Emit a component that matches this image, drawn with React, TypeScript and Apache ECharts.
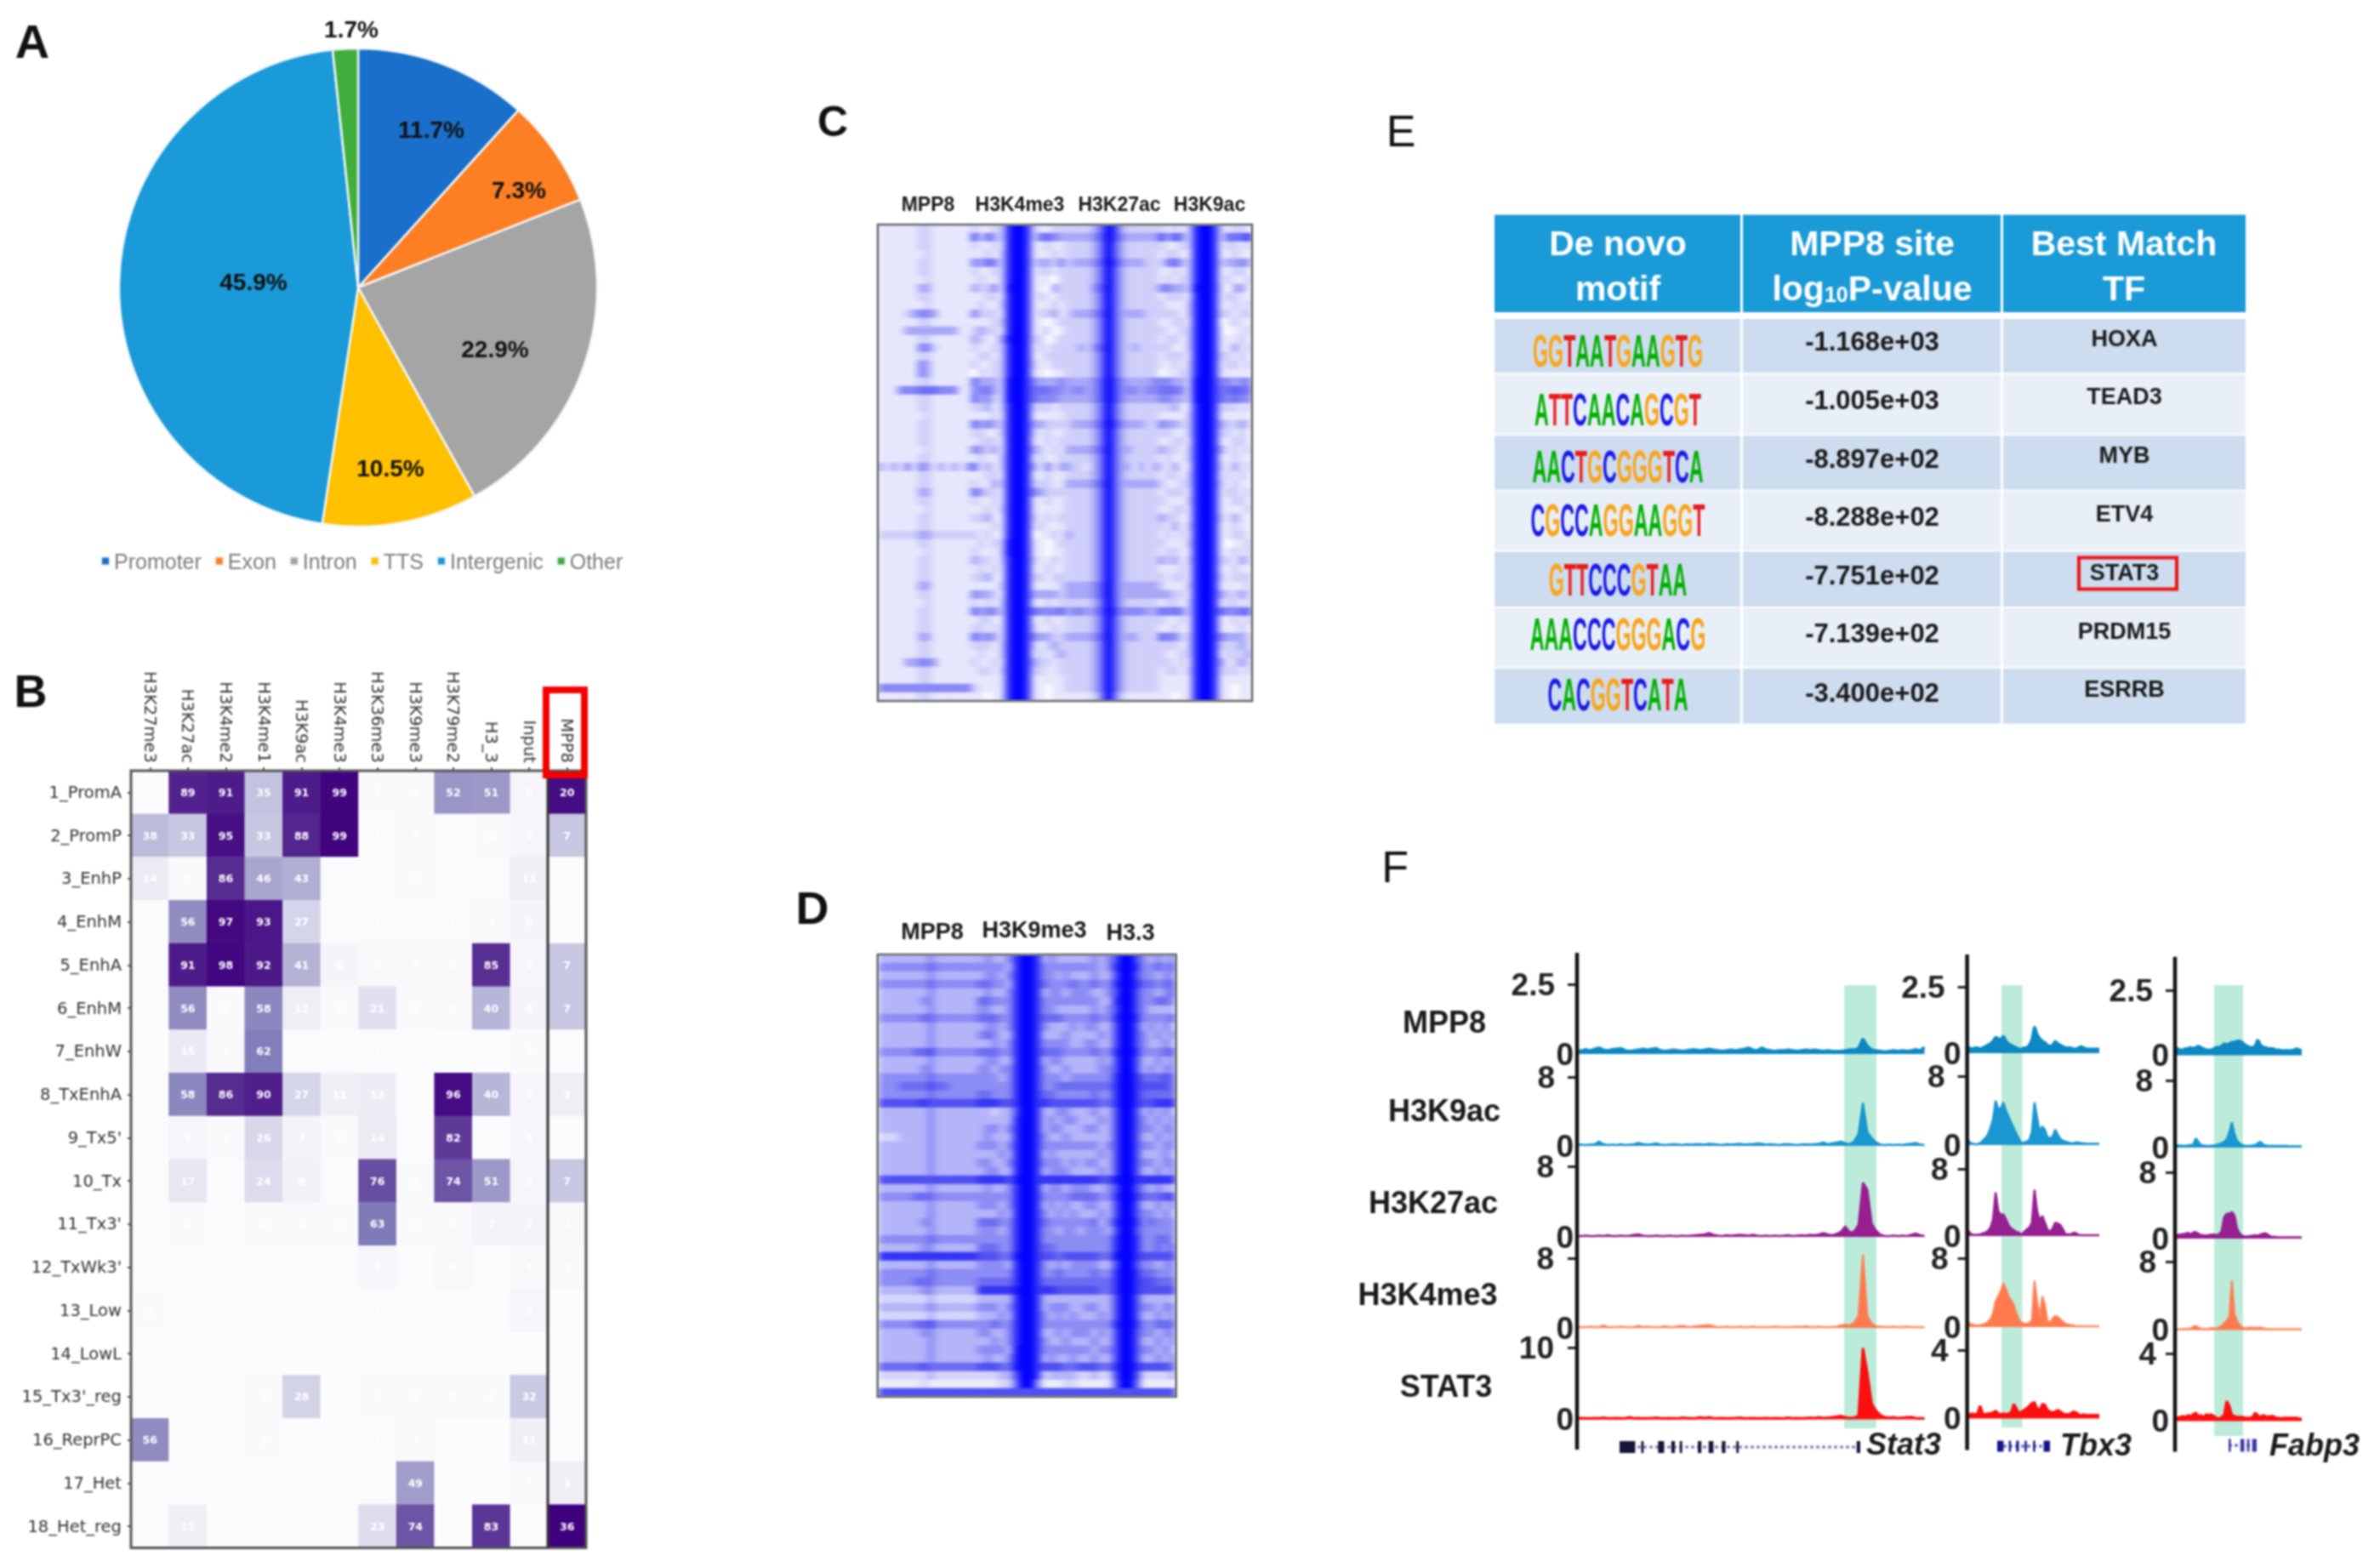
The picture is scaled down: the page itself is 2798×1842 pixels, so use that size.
import React, { useEffect, useRef } from "react";
import * as echarts from "echarts";

// ---------- Panel A ----------
const pieNames = ["Promoter", "Exon", "Intron", "TTS", "Intergenic", "Other"];
const pieValues = [11.7, 7.3, 22.9, 10.5, 45.9, 1.7];
const pieColors = ["#196fc9", "#fd7e23", "#a5a5a5", "#ffc000", "#1a9ad8", "#3fae3c"];
const pieLabelAnchors = [[507, 152], [610, 223], [582, 410], [459, 550], [298, 331], [413, 34]];

// ---------- Panel B ----------
const marks = ["H3K27me3", "H3K27ac", "H3K4me2", "H3K4me1", "H3K9ac", "H3K4me3", "H3K36me3", "H3K9me3", "H3K79me2", "H3_3", "Input", "MPP8"];
const states = ["1_PromA", "2_PromP", "3_EnhP", "4_EnhM", "5_EnhA", "6_EnhM", "7_EnhW", "8_TxEnhA", "9_Tx5'", "10_Tx", "11_Tx3'", "12_TxWk3'", "13_Low", "14_LowL", "15_Tx3'_reg", "16_ReprPC", "17_Het", "18_Het_reg"];
const stateValues = [
  [0, 89, 91, 35, 91, 99, 2, 2, 52, 51, 5, 20],
  [38, 33, 95, 33, 88, 99, 1, 3, 1, 2, 5, 7],
  [14, 2, 86, 46, 43, 1, 1, 2, 1, 1, 11, 0],
  [1, 56, 97, 93, 27, 1, 1, 1, 1, 3, 6, 0],
  [1, 91, 98, 92, 41, 6, 3, 3, 3, 85, 5, 7],
  [1, 56, 2, 58, 12, 2, 21, 2, 3, 40, 6, 7],
  [0, 15, 3, 62, 1, 1, 1, 0, 0, 1, 2, 0],
  [1, 58, 86, 90, 27, 11, 13, 1, 96, 40, 5, 3],
  [1, 5, 3, 26, 7, 2, 14, 1, 82, 1, 5, 0],
  [0, 17, 1, 24, 9, 1, 76, 2, 74, 51, 5, 7],
  [1, 2, 1, 2, 2, 2, 63, 2, 3, 7, 7, 3],
  [1, 1, 1, 1, 1, 1, 5, 1, 4, 1, 4, 2],
  [2, 1, 1, 1, 1, 1, 1, 1, 1, 0, 5, 0],
  [0, 0, 0, 0, 0, 0, 0, 0, 0, 0, 0, 0],
  [0, 1, 0, 2, 28, 0, 2, 2, 2, 2, 32, 0],
  [56, 1, 1, 2, 0, 0, 1, 3, 0, 0, 11, 0],
  [0, 0, 0, 0, 0, 0, 1, 49, 0, 1, 3, 3],
  [0, 11, 0, 0, 1, 1, 23, 74, 1, 83, 0, 36],
];
// the MPP8 column has its own colour range in the picture (read per row)
const mpp8Shade = [96, 33, 0, 0, 33, 33, 0, 12, 0, 33, 4, 3, 0, 0, 0, 0, 12, 100];
const purples = ["#fcfbfd", "#efedf5", "#dadaeb", "#bcbddc", "#9e9ac8", "#807dba", "#6a51a3", "#54278f", "#3f007d"];

// ---------- Panel C: signal per row, MPP8 | H3K4me3 | H3K27ac | H3K9ac ----------
const signalC = [
  "11111122111111 21122799721122 22223597322222 21212799721221",
  "11111122111111 62532799725543 33334697433333 63642799725557",
  "11111122111111 21121799711211 22223596322222 21122799712212",
  "11111112111111 11212799711121 22223596322222 12211799711211",
  "11111122111111 43542799723324 23334697433322 24532799723343",
  "11111122111111 21122799712212 22223596322222 11212799711221",
  "11111112111111 12112799711102 22223596322222 12122799712112",
  "11111133111111 32241899711032 22224696322222 44332899720331",
  "11111122111111 11221799712112 22223596322222 12221799712211",
  "11111112111111 12112799711121 22223596322222 21112799711212",
  "11112344311111 42221799712231 23334696333322 22212799722122",
  "11111122111111 11122799711012 22223596322222 11221799701211",
  "11113333333311 23221799711201 22223596322222 21122799710112",
  "11111122111111 32113899722012 22223596322222 12212799711121",
  "11111144211111 21122799712122 22324696323222 22112799711312",
  "11111122111111 12212799711222 22223596322222 12221799722121",
  "11111143111111 21122799721122 22223596322222 11212799712212",
  "11111143111111 02122799711011 22223596322222 01122799711111",
  "11111122111111 53332899743334 33334697433334 44332899744344",
  "11144455544411 44532899755544 34434697444344 55542899755655",
  "11111122111111 53422899754443 33334697433333 44332899754544",
  "11111122111111 22312799722212 22223596322222 22311799722212",
  "11111112111111 11121799711111 22223596322222 11112799711111",
  "11111122111111 53432799733222 23334697433322 43322799732232",
  "11111122111111 22112799721211 22223596322222 22112799722121",
  "11111122111111 12221799711212 22223596322222 11221799711221",
  "11111112111111 43231799732121 33334696332222 32212799731212",
  "11111122111111 12112799712112 22223596322222 12112799711211",
  "31314143131313 51312799731413 32213596331313 21311799721312",
  "11111122111111 11221799711211 22223596322222 12212799712121",
  "11111122111111 21132799722211 33334696333333 21122799721211",
  "11111133111111 53221799743222 22223596322222 12221799712212",
  "11111122111111 21121799711211 22223596322222 21112799711221",
  "11111112111111 11212799711111 22223596322222 11221799711112",
  "11111122111111 22311799721212 22223596322222 32211799721311",
  "11111122111111 11121799712111 22223596322222 21312799711211",
  "22222233222222 21211799701121 32223596322222 12121799711221",
  "11111122111111 12122899711012 22223596322222 21112799710112",
  "11111112111111 21112899711011 22223596322222 12211799711212",
  "11111122111111 32212799721121 22223596322222 32312799722132",
  "11111122111111 12121799711211 22223596322222 11121799711211",
  "11111122111111 22311799722122 22223596322222 21221799721222",
  "11111133111111 11112799711112 33334696333333 21112799711112",
  "11111122111111 43321799733332 33334696333333 33221799732232",
  "11111112111111 21212799711212 22223596322222 12212799712212",
  "11111122111111 53442799754445 34434697444433 54542799754455",
  "11111122111111 12211799711211 22223596322222 21121799711212",
  "11111122111111 22121799721121 22223596322222 11211799711121",
  "11111133111111 53431799743322 33334696333222 54422799743332",
  "11111122111111 22212799721232 22223596322222 22212799722232",
  "11111122111111 12112799712123 22223596322222 21122799712223",
  "11113344311111 21121799732212 22223596322222 22121799731232",
  "11111122111111 12212799722112 22223596322222 12212799722212",
  "11111122111111 11111799711111 22223596322222 11111799711111",
  "44444444444444 21111799711011 22223596322222 11111799711011",
  "11111122111111 11011799711011 11112495211111 11011799711011",
];

// ---------- Panel D: signal per row, MPP8 | H3K9me3 | H3.3 ----------
const signalD = [
  "33333334333333 34334799734333 33434699643434",
  "44444445444444 44443799744444 44434799744545",
  "33333334333333 34434799744343 33433699644344",
  "44444445444444 55443799754445 44544799755455",
  "33333334333333 34334799734434 44334699644345",
  "33333344333333 55444799744444 44433799644554",
  "33333334333333 44334799744333 33434699643333",
  "44444455444444 55544799755544 44544799744445",
  "33333334333333 34434799743334 34433699634343",
  "33333334333333 45433799733343 33343699643434",
  "33333334333333 33434799744443 34433699643343",
  "44444556444444 55544799755544 44544799744455",
  "33333334333333 34433799734433 33343699633434",
  "33333344333333 44344799743343 33344699634344",
  "44444445444444 44434799744434 44444799755565",
  "44455556554444 44444799744555 55555799766665",
  "44444445444444 55444799755444 44544799755555",
  "66666676666666 77766799776666 66655799766777",
  "33333334333333 33233699733443 33433699634343",
  "33333334333333 33333799734344 33343699643434",
  "33333334333333 34434799734433 34433699644344",
  "22233334333333 34333799743343 33333699633434",
  "33333334333333 44434799744444 44434699644344",
  "33333334333333 33343799734333 33343699633343",
  "33333334333333 44334799744434 34433699644344",
  "33333334333333 34433799734443 33343699633434",
  "66666666666666 77776899777777 77766899777777",
  "33333334333333 34334799734434 44334699643433",
  "44444555444444 44444799744445 55544799755566",
  "33333334333333 44434799734343 34433699633434",
  "33333334333333 33343799743434 33343699644343",
  "33333344333333 55544799754444 44534799745444",
  "33333334333333 44434799744344 34443699644444",
  "44444445444444 44444799744444 44444799744554",
  "33333344333333 55544799755444 44444799744545",
  "77777777777777 66655899766566 66655899766666",
  "33333334333333 44443799743434 44433699644344",
  "44444445444444 44444799744544 44544799755444",
  "44444555444444 55555799755555 55555799766555",
  "33333344333333 77777899777666 66655799766666",
  "22222223222222 33333799733333 33333699633333",
  "33333334333333 44434799734443 34433699644344",
  "22222223222222 33343799743434 33343699633434",
  "44444556444444 44544799744444 44444799744555",
  "33333344333333 44334799733434 44343699644344",
  "33333334333333 33434799743343 33433699633434",
  "33333334333333 44443899744444 44344699644343",
  "33333334333333 34334899734334 33433699633434",
  "55555565555555 66655899766655 66655799766665",
  "22222223222222 22233699723333 22322699622223",
  "11111121111111 11122599411122 11111599511111",
  "66666666666666 66666666666666 66666666666666",
];
const signalColorsC = ["#ffffff", "#e6e6fc", "#cfcffa", "#a8a8f8", "#8888f6", "#7070f8", "#5858f8", "#3c3cfa", "#1e1efc", "#0000ff"];
const signalColorsD = ["#ffffff", "#ececfd", "#d5d5fb", "#b4b4f9", "#8c8cf5", "#6c6cf2", "#5050f2", "#3434f6", "#1a1afa", "#0000ff"];

// ---------- Panel E ----------
const headers = [["De novo", "motif"], ["MPP8 site", "{n|log}{s|10}{n|P-value}"], ["Best Match", "TF"]];
const motifs = ["GGTAATGAAGTG", "ATTCAACAGCGT", "AACTGCGGGTCA", "CGCCAGGAAGGT", "GTTCCCGTAA", "AAACCCGGGACG", "CACGGTCATA"];
const pValues = ["-1.168e+03", "-1.005e+03", "-8.897e+02", "-8.288e+02", "-7.751e+02", "-7.139e+02", "-3.400e+02"];
const bestMatches = ["HOXA", "TEAD3", "MYB", "ETV4", "STAT3", "PRDM15", "ESRRB"];

// ---------- Panel F: tracks, one list per locus ----------
const trackNames = ["MPP8", "H3K9ac", "H3K27ac", "H3K4me3", "STAT3"];
const trackColors = ["#0d88c2", "#1a96d0", "#96208f", "#ff7a4e", "#fb1010"];
const scaleMaxStat3 = [2.5, 8, 8, 8, 10];
const scaleMaxOther = [2.5, 8, 8, 8, 4];

const stat3Mpp8 = [.1, .12, .16, .12, .18, .22, .15, .12, .16, .18, .2, .12, .1, .12, .15, .18, .15, .18, .2, .12, .1, .12, .15, .12, .1, .12, .15, .15, .12, .15, .18, .15, .12, .1, .12, .15, .12, .15, .18, .22, .15, .12, .22, .15, .12, .1, .12, .12, .15, .12, .1, .12, .15, .12, .15, .12, .1, .12, .1, .1, .1, .12, .15, .15, .2, .55, .28, .15, .12, .1, .08, .1, .12, .1, .12, .1, .12, .16, .12, .24];
const stat3H3k9ac = [.1, .15, .1, .15, .2, .5, .2, .1, .15, .1, .2, .1, .15, .2, .35, .2, .15, .2, .3, .15, .1, .15, .2, .15, .1, .2, .15, .2, .2, .15, .25, .2, .15, .1, .2, .15, .2, .25, .15, .2, .2, .3, .25, .15, .2, .15, .1, .2, .2, .15, .1, .15, .2, .15, .2, .25, .4, .2, .3, .4, .5, .3, .2, .5, 1.4, 5, 1.6, .9, .4, .15, .1, .15, .1, .15, .1, .2, .25, .35, .15, .1];
const stat3H3k27ac = [.1, .1, .15, .1, .1, .15, .1, .2, .1, .1, .15, .1, .15, .25, .3, .15, .1, .1, .15, .1, .1, .15, .1, .1, .15, .1, .15, .2, .25, .3, .45, .25, .15, .1, .2, .15, .2, .25, .2, .15, .25, .15, .1, .15, .1, .15, .1, .15, .2, .1, .15, .2, .15, .25, .2, .3, .45, .3, .2, .35, .6, 1.2, .5, .6, 1.4, 6.2, 5.4, 1.5, .7, .25, .1, .1, .15, .1, .15, .1, .25, .4, .2, .1];
const stat3H3k4me3 = [.1, .1, .1, .15, .1, .1, .3, .1, .1, .1, .15, .1, .1, .1, .25, .1, .15, .1, .1, .1, .2, .1, .1, .2, .25, .15, .1, .2, .25, .3, .35, .2, .1, .1, .15, .1, .1, .15, .1, .1, .15, .1, .1, .1, .1, .15, .1, .1, .1, .1, .15, .1, .2, .1, .1, .15, .1, .1, .1, .15, .3, .4, .3, .6, 1.4, 8.4, 1.4, .5, .2, .15, .1, .1, .15, .1, .1, .15, .1, .1, .1, .1];
const stat3Stat3 = [.15, .2, .15, .15, .2, .15, .25, .15, .15, .2, .15, .2, .3, .15, .2, .15, .15, .2, .25, .15, .15, .2, .15, .15, .25, .2, .15, .2, .3, .2, .3, .2, .15, .2, .15, .15, .2, .25, .15, .15, .2, .15, .15, .2, .15, .2, .15, .15, .25, .15, .2, .15, .2, .25, .2, .3, .2, .25, .3, .4, .5, .3, .2, .25, .5, 10, 6.5, 2.2, 1.2, .6, .3, .25, .3, .2, .25, .3, .35, .2, .15, .15];

const tbx3Mpp8 = [.15, .2, .15, .2, .2, .15, .2, .25, .3, .35, .45, .6, .55, .5, .65, .45, .35, .3, .25, .2, .15, .15, .2, .2, .3, .5, 1, .7, .55, .45, .4, .3, .25, .3, .45, .35, .3, .25, .2, .2, .2, .15, .15, .2, .25, .2, .15, .15, .15, .15, .15, .15];
const tbx3H3k9ac = [.8, .3, .15, .1, .1, .2, .5, .8, 1.2, 2, 3, 5.2, 4.2, 4.3, 5, 4, 3.3, 2.6, 2, 1.3, .7, .2, .3, .4, .6, 1.5, 5, 3.2, 1.5, 2.2, 1.8, .9, .8, 1, 1.8, 1.2, .7, .5, .4, .3, .2, .2, .3, .3, .2, .2, .15, .15, .15, .15, .15, .15];
const tbx3H3k27ac = [.8, .4, .15, .15, .15, .2, .3, .4, .6, 1, 2, 5.2, 3, 2.5, 2.6, 2, 1.3, .9, .7, .5, .4, .15, .5, .8, 1, 1.6, 5.5, 3, 1.8, 2.4, 1.6, .8, .5, .9, 1.6, 1.5, 1.3, .8, .2, .2, .2, .4, .35, .15, .1, .1, .1, .1, .1, .1, .1, .1];
const tbx3H3k4me3 = [.8, .4, .3, .2, .2, .2, .3, .4, .6, .9, 1.6, 3, 3.6, 4.2, 5.1, 4.4, 3.6, 3.1, 2.6, 1.6, .9, .5, .4, .4, .5, .8, 5.4, 3, 1.1, 3.6, 2.6, .7, .5, 1, 1.3, 1.2, .9, .6, .4, .3, .2, .2, .1, .1, .1, .1, .1, .1, .1, .1, .1, .1];
const tbx3Stat3 = [.3, .25, .3, .25, .3, .75, .3, .25, .3, .3, .35, .45, .3, .25, .3, .25, .3, .35, .85, .6, .3, .4, .5, .6, .75, .9, .95, .6, .5, .85, .8, .5, .4, .35, .4, .5, .4, .3, .25, .25, .3, .4, .35, .25, .2, .25, .2, .2, .2, .2, .2, .2];

const fabp3Mpp8 = [.3, .25, .2, .2, .25, .25, .3, .25, .3, .35, .3, .25, .2, .2, .2, .25, .3, .3, .35, .45, .4, .45, .5, .5, .55, .55, .5, .4, .35, .3, .3, .35, .6, .4, .3, .3, .25, .25, .25, .2, .2, .18, .18, .18, .18, .18, .2, .25, .2, .18];
const fabp3H3k9ac = [.3, .25, .25, .2, .2, .25, .3, .3, 1.1, .7, .3, .25, .2, .2, .2, .25, .3, .4, .5, .7, 1, 1.8, 3, 1.6, .8, .5, .3, .2, .2, .2, .25, .3, .5, .7, .4, .25, .2, .2, .2, .2, .2, .2, .2, .2, .15, .15, .15, .15, .15, .15];
const fabp3H3k27ac = [.4, .45, .5, .55, .6, .7, .5, .75, .8, .6, .45, .4, .35, .4, .5, .5, .45, .5, .9, 2.6, 3, 3, 3.2, 2.8, 1.2, .6, .35, .25, .25, .3, .35, .4, .35, .5, .6, .65, .45, .25, .2, .2, .15, .15, .15, .15, .15, .15, .15, .15, .15, .15];
const fabp3H3k4me3 = [.1, .1, .1, .1, .15, .15, .2, .35, .5, .3, .15, .15, .1, .15, .25, .2, .15, .3, .5, .8, 1.1, 1.6, 5.8, 1.8, 1.1, .6, .3, .2, .25, .3, .25, .3, .25, .3, .2, .15, .1, .1, .1, .1, .1, .1, .1, .1, .1, .1, .1, .1, .1, .1];
const fabp3Stat3 = [.15, .2, .25, .3, .25, .35, .3, .4, .5, .3, .35, .25, .4, .35, .4, .3, .2, .15, .25, .35, 1.2, .9, .35, .3, .25, .25, .25, .2, .2, .2, .25, .5, .35, .25, .35, .3, .25, .3, .3, .2, .2, .15, .2, .2, .2, .2, .2, .2, .15, .15];

const stat3Exons = [[0, .065], [.09, .1], [.16, .185], [.215, .23], [.25, .26], [.325, .34], [.37, .39], [.425, .44], [.485, .495], [.985, 1]];
const tbx3Exons = [[0, .12], [.22, .26], [.36, .41], [.52, .56], [.68, .72], [.88, 1]];
const fabp3Exons = [[0, .08], [.42, .56], [.66, .74], [.84, 1]];

const FONT = "'Liberation Sans', Arial, sans-serif";
const MPL = "'DejaVu Sans', sans-serif";
const ts = (fontSize: number, fontWeight: any = "normal", fontFamily = FONT) => ({ fontSize, fontWeight, fontFamily });

const textEl = (x: number, y: number, text: string, font: string, fill = "#1a1a1a", align = "center", extra: any = {}) => ({
  type: "text", x, y, z: 120, silent: true,
  style: { text, font, fill, align, verticalAlign: "middle", ...extra },
});
const rectEl = (x: number, y: number, width: number, height: number, style: any, z = 110) => ({
  type: "rect", z, silent: true, shape: { x, y, width, height }, style,
});
const lineEl = (x1: number, y1: number, x2: number, y2: number, stroke: string, lineWidth: number, extra: any = {}) => ({
  type: "line", z: 110, silent: true, shape: { x1, y1, x2, y2 }, style: { stroke, lineWidth, ...extra },
});

function denseOption(rows: string[], colors: string[]) {
  const parsed = rows.map((r) => r.replace(/ /g, ""));
  const data: any[] = [];
  parsed.forEach((r, y) => r.split("").forEach((ch, x) => data.push([x, y, +ch])));
  return {
    animation: false,
    grid: { left: 0, right: 0, top: 0, bottom: 0 },
    xAxis: { type: "category", show: false, data: parsed[0].split("").map((_, i) => i) },
    yAxis: { type: "category", show: false, inverse: true, data: parsed.map((_, i) => i) },
    visualMap: { type: "continuous", show: false, dimension: 2, min: 0, max: 9, inRange: { color: colors } },
    series: [{ type: "heatmap", data, progressive: 0, silent: true, encode: { x: 0, y: 1 }, itemStyle: { borderWidth: 0 } }],
  };
}

function buildOption() {
  const grid: any[] = [], xAxis: any[] = [], yAxis: any[] = [], series: any[] = [], g: any[] = [];

  // A
  series.push({
    type: "pie", center: [421, 338], radius: [0, 281], startAngle: 90, clockwise: true, silent: true,
    itemStyle: { borderColor: "#f2f6f8", borderWidth: 2.5 },
    label: { show: true, position: "inside", formatter: "{c}%", ...ts(28, "bold"), color: "#111", textBorderWidth: 0 },
    labelLine: { show: false },
    labelLayout: (p: any) => ({ x: pieLabelAnchors[p.dataIndex][0], y: pieLabelAnchors[p.dataIndex][1], align: "center", verticalAlign: "middle" }),
    data: pieNames.map((name, i) => ({ name, value: pieValues[i], itemStyle: { color: pieColors[i] } })),
  });

  // B
  const bIdx = series.length;
  grid.push({ left: 154, top: 906, width: 535, height: 913.5 });
  xAxis.push({
    gridIndex: 0, type: "category", position: "top", data: marks,
    axisLine: { show: false }, splitLine: { show: false },
    axisTick: { show: true, length: 4, alignWithLabel: true, lineStyle: { color: "#555", width: 2 } },
    axisLabel: { rotate: 90, interval: 0, margin: 9, ...ts(19.5, "normal", MPL), color: "#333" },
  });
  yAxis.push({
    gridIndex: 0, type: "category", inverse: true, data: states,
    axisLine: { show: false }, splitLine: { show: false },
    axisTick: { show: true, length: 4, alignWithLabel: true, lineStyle: { color: "#555", width: 2 } },
    axisLabel: { interval: 0, margin: 11, ...ts(19.5, "normal", MPL), color: "#333" },
  });
  const bData: any[] = [];
  stateValues.forEach((row, y) => row.forEach((v, x) => bData.push([x, y, v, x === 11 ? mpp8Shade[y] : v])));
  series.push({
    type: "heatmap", xAxisIndex: 0, yAxisIndex: 0, data: bData, progressive: 0, silent: true,
    encode: { x: 0, y: 1 },
    label: { show: true, ...ts(12.5, "bold", MPL), color: "#fff", formatter: (p: any) => (p.value[2] > 0 ? String(p.value[2]) : "") },
  });
  g.push(rectEl(154, 906, 535, 913.5, { fill: "none", stroke: "#555", lineWidth: 3 }));
  g.push(lineEl(644, 906, 644, 1819.5, "#333", 3));
  g.push(rectEl(642, 811, 45, 100, { fill: "none", stroke: "#f40000", lineWidth: 8 }, 115));

  // C and D: heatmaps sit in their own charts, under this one
  g.push(rectEl(1032, 264, 440, 560, { fill: "none", stroke: "#666", lineWidth: 2.5 }));
  g.push(rectEl(1031.7, 1122, 351, 520, { fill: "none", stroke: "#666", lineWidth: 2.5 }));
  g.push(textEl(1091, 240, "MPP8", `bold 23px ${FONT}`));
  g.push(textEl(1199, 240, "H3K4me3", `bold 23px ${FONT}`));
  g.push(textEl(1316, 240, "H3K27ac", `bold 23px ${FONT}`));
  g.push(textEl(1422, 240, "H3K9ac", `bold 23px ${FONT}`));
  g.push(textEl(1096, 1095, "MPP8", `bold 27px ${FONT}`));
  g.push(textEl(1216, 1093, "H3K9me3", `bold 27px ${FONT}`));
  g.push(textEl(1329, 1096, "H3.3", `bold 27px ${FONT}`));

  // E
  const colX = [[1757, 2046], [2049, 2352], [2355, 2640]];
  const colC = [1902, 2201, 2497];
  colX.forEach(([a, b], c) => {
    g.push(rectEl(a, 252.5, b - a, 114.5, { fill: "#1a9ad6" }, 100));
    const [l1, l2] = headers[c];
    g.push(textEl(colC[c], 286, l1, `bold 41px ${FONT}`, "#fff"));
    g.push(textEl(colC[c], 339, l2, `bold 41px ${FONT}`, "#fff", "center", {
      rich: {
        n: { font: `bold 41px ${FONT}`, fill: "#fff", lineHeight: 48 },
        s: { font: `bold 25px ${FONT}`, fill: "#fff", lineHeight: 48, padding: [14, 0, 0, 0] },
      },
    }));
  });
  const rowY = [[375, 438], [440, 510], [512, 575.5], [577, 646.5], [648.5, 713], [715, 784], [786, 850.5]];
  const motifY = [412, 481, 548, 611, 681, 745, 816];
  const nt: any = {};
  const ntColor: any = { G: "#f8a51c", A: "#00b000", T: "#e81c1c", C: "#1a1ae6" };
  Object.keys(ntColor).forEach((k) => (nt[k] = { font: `bold 54px ${FONT}`, fill: ntColor[k] }));
  motifs.forEach((m, r) => {
    colX.forEach(([a, b]) => g.push(rectEl(a, rowY[r][0], b - a, rowY[r][1] - rowY[r][0], { fill: r % 2 === 0 ? "#cddcee" : "#e9eff7" }, 100)));
    g.push(textEl(1902, motifY[r], m.split("").map((ch) => `{${ch}|${ch}}`).join(""), `bold 54px ${FONT}`, "#000", "center", { rich: nt }));
    g[g.length - 1].scaleX = 0.43;
    g.push(textEl(2201, [401, 470, 539, 607, 676, 744, 814][r], pValues[r], `bold 31px ${FONT}`));
    g.push(textEl(2497.5, [398, 466, 535, 604, 673, 742, 810][r], bestMatches[r], `bold 27px ${FONT}`));
  });
  g.push(rectEl(2444, 655.5, 115, 37, { fill: "none", stroke: "#ee1111", lineWidth: 4 }, 115));

  // F
  const panels = [
    { x: 1854, w: 408.5, tops: [1157.6, 1266, 1371.5, 1479, 1584.5], bases: [1239, 1347, 1454, 1561, 1668.6], maxes: scaleMaxStat3, tracks: [stat3Mpp8, stat3H3k9ac, stat3H3k27ac, stat3H3k4me3, stat3Stat3], axis: [1120, 1704], band: [2168, 2206, 1158, 1679], labelMargins: [26, 26, 27, 27, 27], zeroMargin: 4 },
    { x: 2312.6, w: 155.4, tops: [1160, 1265.6, 1374, 1479, 1587], bases: [1238, 1346, 1453, 1560, 1667.6], maxes: scaleMaxOther, tracks: [tbx3Mpp8, tbx3H3k9ac, tbx3H3k27ac, tbx3H3k4me3, tbx3Stat3], axis: [1122, 1704.5], band: [2353, 2377.5, 1158, 1678], labelMargins: [26, 26, 22, 22, 22], zeroMargin: 7 },
    { x: 2557, w: 149, tops: [1164.6, 1270, 1378, 1483, 1591.7], bases: [1240.4, 1349, 1456, 1563.5, 1670.6], maxes: scaleMaxOther, tracks: [fabp3Mpp8, fabp3H3k9ac, fabp3H3k27ac, fabp3H3k4me3, fabp3Stat3], axis: [1124.7, 1706.6], band: [2603, 2637, 1158, 1688], labelMargins: [26, 26, 22, 22, 22], zeroMargin: 7 },
  ];
  const lineWidths = [3.5, 2.5, 2.5, 2.5, 3];
  panels.forEach((p) => {
    p.tracks.forEach((vals, t) => {
      const gi = grid.length;
      grid.push({ left: p.x, top: p.tops[t], width: p.w, height: p.bases[t] - p.tops[t] });
      xAxis.push({ gridIndex: gi, type: "category", show: false, boundaryGap: false, data: vals.map((_, i) => i) });
      const yi = yAxis.length;
      const max = p.maxes[t];
      yAxis.push({
        gridIndex: gi, type: "value", position: "left", min: 0, max, interval: max,
        splitLine: { show: false }, axisLine: { show: false },
        axisTick: { show: true, length: 11, customValues: [max], lineStyle: { color: "#222", width: 3 } },
        axisLabel: { customValues: [max], margin: p.labelMargins[t], ...ts(37, "bold"), color: "#222" },
      });
      yAxis.push({
        gridIndex: gi, type: "value", position: "left", min: 0, max, interval: max,
        splitLine: { show: false }, axisLine: { show: false }, axisTick: { show: false },
        axisLabel: { customValues: [0], margin: p.zeroMargin, ...ts(37, "bold"), color: "#222", padding: [0, 0, 14, 0] },
      });
      series.push({
        type: "line", name: trackNames[t], xAxisIndex: gi, yAxisIndex: yi, data: vals, symbol: "none", silent: true, clip: false,
        lineStyle: { color: trackColors[t], width: lineWidths[t], opacity: t === 3 ? 0.8 : 1 },
        areaStyle: { color: trackColors[t], opacity: 1 },
      });
    });
    g.push(lineEl(p.x, p.axis[0], p.x, p.axis[1], "#111", 4.5));
    const [bx0, bx1, by0, by1] = p.band;
    g.push(rectEl(bx0, by0, bx1 - bx0, by1 - by0, { fill: "#bcecd9" }, 1));
  });
  const nameFont = `bold 36px ${FONT}`;
  [[1698, 1201], [1698, 1305], [1685, 1413], [1678.5, 1521], [1700, 1629]].forEach(([x, y], i) => g.push(textEl(x, y, trackNames[i], nameFont)));

  const gene = (x0: number, x1: number, y: number, exons: number[][], lineColor: string, exonColor: string, h: number) => {
    g.push(lineEl(x0, y, x1, y, lineColor, 3.5, { lineDash: [4, 3] }));
    exons.forEach(([a, b]) => g.push(rectEl(x0 + a * (x1 - x0), y - h / 2, (b - a) * (x1 - x0), h, { fill: exonColor })));
  };
  gene(1904, 2187, 1701, stat3Exons, "#8c8cc6", "#15153a", 14);
  gene(2348, 2410, 1700, tbx3Exons, "#7474cc", "#14148f", 13);
  gene(2620, 2653, 1699, fabp3Exons, "#6f6fc2", "#3a3aa8", 15);
  const geneFont = `italic bold 36px ${FONT}`;
  g.push(textEl(2194, 1697, "Stat3", geneFont, "#1a1a1a", "left"));
  g.push(textEl(2422, 1698, "Tbx3", geneFont, "#1a1a1a", "left"));
  g.push(textEl(2668, 1698, "Fabp3", geneFont, "#1a1a1a", "left"));

  // Panel letters
  g.push(textEl(38, 48, "A", `bold 56px ${FONT}`, "#111"));
  g.push(textEl(36, 812, "B", `bold 54px ${FONT}`, "#111"));
  g.push(textEl(979, 143, "C", `bold 50px ${FONT}`, "#111"));
  g.push(textEl(955, 1067, "D", `bold 54px ${FONT}`, "#111"));
  g.push(textEl(1647, 154, "E", `52px ${FONT}`, "#111"));
  g.push(textEl(1640, 1019, "F", `52px ${FONT}`, "#111"));

  return {
    animation: false,
    legend: {
      left: 113, top: 642, itemWidth: 10, itemHeight: 10, itemGap: 15, icon: "rect",
      selectedMode: false, data: pieNames, textStyle: { ...ts(25), color: "#7c7c7c" },
    },
    visualMap: [
      { type: "continuous", show: false, seriesIndex: bIdx, dimension: 3, min: 0, max: 100, inRange: { color: purples } },
    ],
    grid, xAxis, yAxis, series,
    graphic: { elements: g },
  };
}

export default function App() {
  const ref = useRef<HTMLDivElement>(null);
  const refC = useRef<HTMLDivElement>(null);
  const refD = useRef<HTMLDivElement>(null);
  useEffect(() => {
    const cC = echarts.init(refC.current!, undefined, { renderer: "svg" });
    cC.setOption(denseOption(signalC, signalColorsC) as any);
    const cD = echarts.init(refD.current!, undefined, { renderer: "svg" });
    cD.setOption(denseOption(signalD, signalColorsD) as any);
    const chart = echarts.init(ref.current!, undefined, { renderer: "svg", width: 2798, height: 1842 });
    chart.setOption(buildOption() as any);
    return () => { chart.dispose(); cC.dispose(); cD.dispose(); };
  }, []);
  const dense = (r: any, left: number, top: number, width: number, height: number) => (
    <div ref={r} style={{ position: "fixed", left, top, width, height, zIndex: 0, filter: "url(#streak)" }} />
  );
  return (
    <>
      <svg width="0" height="0" style={{ position: "absolute" }}>
        <filter id="streak" x="0" y="0" width="100%" height="100%" colorInterpolationFilters="sRGB">
          <feGaussianBlur stdDeviation="4 1.6" edgeMode="duplicate" />
        </filter>
      </svg>
      {dense(refC, 1032, 264, 440, 560)}
      {dense(refD, 1032, 1122, 351, 520)}
      <div ref={ref} style={{ position: "fixed", left: 0, top: 0, width: 2798, height: 1842, zIndex: 1, filter: "blur(1px)" }} />
    </>
  );
}
